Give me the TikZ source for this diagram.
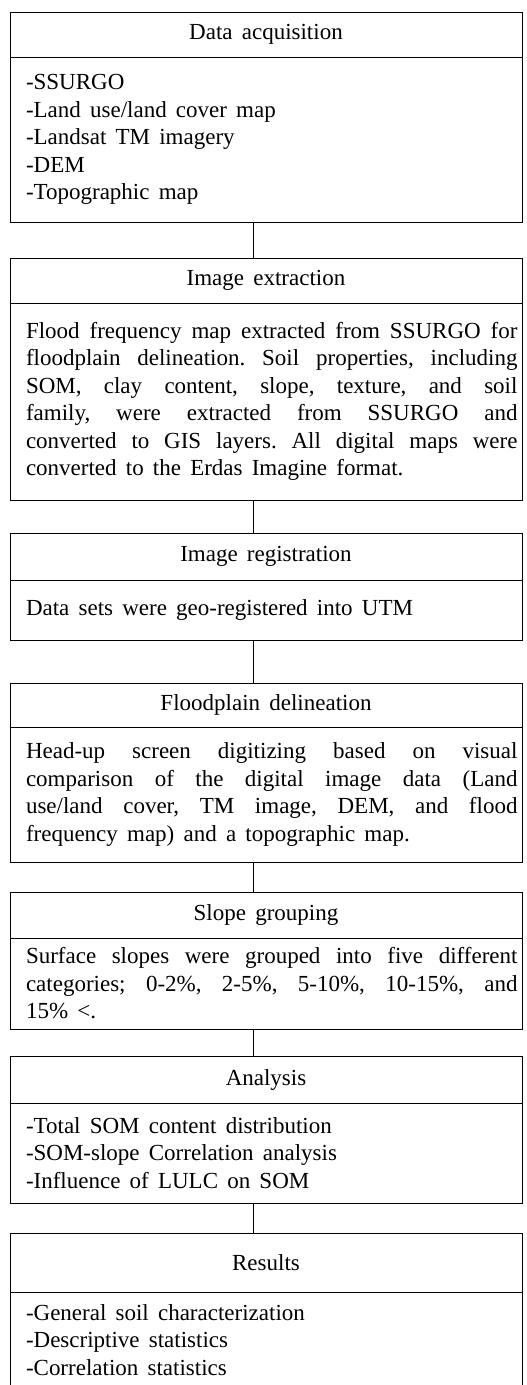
\documentclass[tikz,border=0pt]{standalone}
\usepackage{fontspec}
\setmainfont{Liberation Serif}
\usepackage{tikz}
\usetikzlibrary{positioning}

\frenchspacing
\newcommand{\widespace}{\spaceskip=0.4em plus 1em minus 0.1em}
\newcommand{\bodysetup}{\leftskip=11.5pt\baselineskip=27.5pt\widespace\hyphenpenalty=10000}

\tikzset{
  stephead/.style={draw, line width=0.6pt, outer sep=0pt, inner sep=0pt,
    anchor=north west, minimum width=512pt,
    font=\fontsize{23}{27.5}\selectfont\widespace},
  stepbody/.style={draw, line width=0.6pt, outer sep=0pt, inner xsep=4.5pt,
    inner ysep=0pt, minimum width=512pt, text width=503pt, align=justify,
    font=\fontsize{23}{27.5}\selectfont, execute at begin node=\bodysetup},
  link/.style={line width=0.6pt}
}

\begin{document}
\begin{tikzpicture}[x=1pt, y=-1pt]
  % --- Frame ---
  \useasboundingbox (0,0) rectangle (527,1385);
  \clip (0,0) rectangle (527,1385);

  % --- Data acquisition ---
  \node[stephead, minimum height=45pt] (acqhead) at (10,12) {Data acquisition};
  \node[stepbody, minimum height=165pt, align=left, below=0pt of acqhead] (acqbody)
    {-SSURGO\\-Land use/land cover map\\-Landsat TM imagery\\-DEM\\-Topographic map};

  % --- Image extraction ---
  \node[stephead, minimum height=45pt] (exthead) at (10,258) {Image extraction};
  \node[stepbody, minimum height=197pt, below=0pt of exthead] (extbody)
    {Flood frequency map extracted from SSURGO for\linebreak
     floodplain delineation. Soil properties, including\linebreak
     SOM, clay content, slope, texture, and soil\linebreak
     family, were extracted from SSURGO and\linebreak
     converted to GIS layers. All digital maps were\linebreak
     converted to the Erdas Imagine format.};

  % --- Image registration ---
  \node[stephead, minimum height=47pt] (reghead) at (10,533) {Image registration};
  \node[stepbody, minimum height=60pt, below=0pt of reghead] (regbody)
    {Data sets were geo-registered into UTM};

  % --- Floodplain delineation ---
  \node[stephead, minimum height=44pt] (fphead) at (10,683) {Floodplain delineation};
  \node[stepbody, minimum height=135pt, below=0pt of fphead] (fpbody)
    {Head-up screen digitizing based on visual\linebreak
     comparison of the digital image data (Land\linebreak
     use/land cover, TM image, DEM, and flood\linebreak
     frequency map) and a topographic map.};

  % --- Slope grouping ---
  \node[stephead, minimum height=46pt] (slopehead) at (10,892) {Slope grouping};
  \node[stepbody, minimum height=91pt, below=0pt of slopehead] (slopebody)
    {Surface slopes were grouped into five different\linebreak
     categories; 0-2\%, 2-5\%, 5-10\%, 10-15\%, and\linebreak
     15\% <.};

  % --- Analysis ---
  \node[stephead, minimum height=47pt] (anahead) at (10,1056) {Analysis};
  \node[stepbody, minimum height=100pt, align=left, below=0pt of anahead] (anabody)
    {-Total SOM content distribution\\-SOM-slope Correlation analysis\\-Influence of LULC on SOM};

  % --- Results (runs off the bottom) ---
  \node[stephead, minimum height=59pt] (reshead) at (10,1233) {Results};
  \node[stepbody, minimum height=96pt, align=left, below=0pt of reshead] (resbody)
    {-General soil characterization\\-Descriptive statistics\\-Correlation statistics};

  % --- Connectors ---
  \foreach \from/\to in {acqbody/exthead, extbody/reghead, regbody/fphead,
                         fpbody/slopehead, slopebody/anahead, anabody/reshead}
    \draw[link] ([xshift=-13pt]\from.south) -- ([xshift=-13pt]\to.north);
\end{tikzpicture}
\end{document}
